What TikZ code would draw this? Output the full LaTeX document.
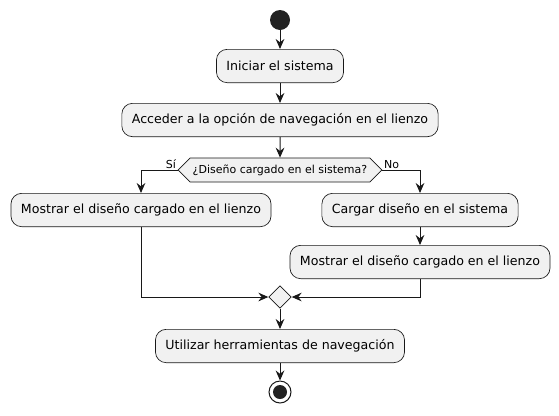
\documentclass[tikz,border=0pt]{standalone}
\usepackage{fontspec}
\setmainfont{DejaVu Sans}
\usetikzlibrary{arrows.meta,positioning,shapes.geometric,shapes.symbols}
\definecolor{actfill}{HTML}{F1F1F1}
\definecolor{actline}{HTML}{181818}
\definecolor{dot}{HTML}{222222}

\tikzset{
  action/.style={draw=actline, fill=actfill, line width=0.5pt, rounded corners=8pt,
    minimum height=25pt, inner xsep=7.5pt, font=\fontsize{9.45}{12}\selectfont},
  decision/.style={draw=actline, fill=actfill, line width=0.5pt, shape=signal,
    signal to=west and east, signal pointer angle=90, minimum height=18pt,
    inner xsep=2pt, font=\fontsize{8.25}{10}\selectfont},
  merge/.style={draw=actline, fill=actfill, line width=0.5pt, shape=diamond,
    minimum size=17pt, inner sep=0pt},
  guard/.style={font=\fontsize{8.25}{10}\selectfont, inner sep=1pt},
  flow/.style={draw=actline, line width=0.75pt, -{Stealth[length=7.5pt,width=6.5pt,inset=2.5pt]}},
  line/.style={draw=actline, line width=0.75pt}
}

\begin{document}
\begin{tikzpicture}[x=0.75pt,y=-0.75pt]
  \useasboundingbox (0,0) rectangle (559,415);

  % start and end
  \node[circle, fill=dot, minimum size=15pt, inner sep=0pt] (start) at (280,20) {};
  \node[circle, draw=actline, line width=0.75pt, fill=white, minimum size=16.5pt, inner sep=0pt] (stop) at (280,392) {};
  \fill[dot] (stop.center) circle (5.25pt);

  % actions
  \node[action] (init) at (280,66) {Iniciar el sistema};
  \node[action] (access) at (280,120) {Acceder a la opción de navegación en el lienzo};
  \node[decision] (loaded) at (280,170) {¿Diseño cargado en el sistema?};
  \node[action] (showleft) at (141,210) {Mostrar el diseño cargado en el lienzo};
  \node[action] (load) at (420,210) {Cargar diseño en el sistema};
  \node[action] (showright) at (420,262) {Mostrar el diseño cargado en el lienzo};
  \node[merge] (join) at (280,297) {};
  \node[action] (tools) at (280,346) {Utilizar herramientas de navegación};

  % guards
  \node[guard, anchor=south east] (yes) at (loaded.west) {Sí};
  \node[guard, anchor=south west] (no) at (loaded.east) {No};

  % connectors
  \draw[flow] (start) -- (init);
  \draw[flow] (init) -- (access);
  \draw[flow] (access) -- (loaded);
  \draw[flow] (loaded.west) -| (showleft.north);
  \draw[flow] (loaded.east) -| (load.north);
  \draw[flow] (load) -- (showright);
  \draw[flow] (showleft.south) |- (join.west);
  \draw[flow] (showright.south) |- (join.east);
  \draw[flow] (join) -- (tools);
  \draw[flow] (tools) -- (stop);
\end{tikzpicture}
\end{document}
